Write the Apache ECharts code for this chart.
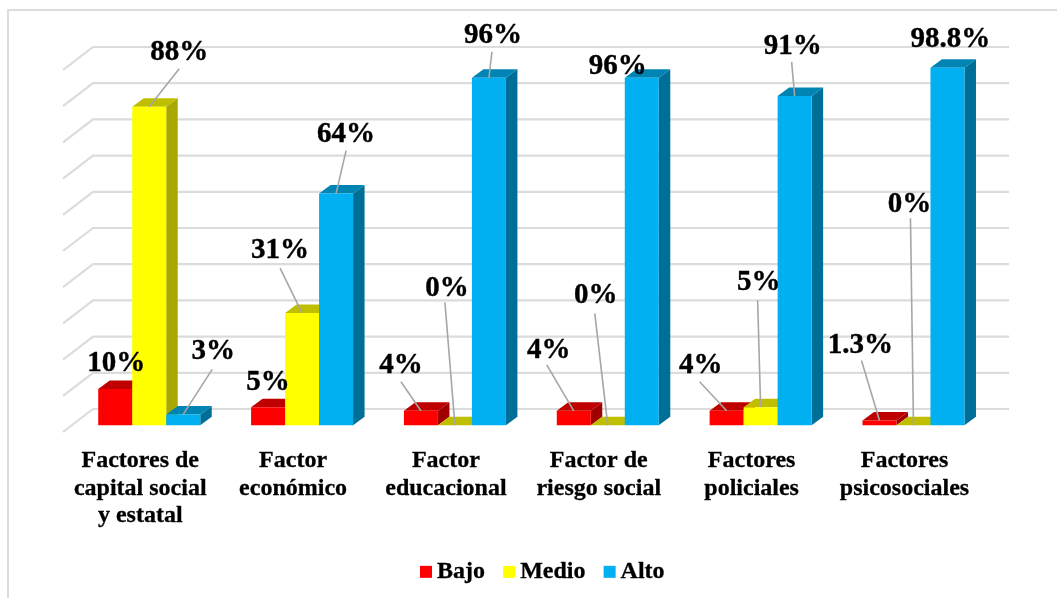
<!DOCTYPE html>
<html>
<head>
<meta charset="utf-8">
<style>html,body{margin:0;padding:0;background:#fff}#c{width:1057px;height:598px}</style>
<script src="https://cdn.jsdelivr.net/npm/echarts@6/dist/echarts.min.js"></script>
</head>
<body>
<div id="c"></div>
<script>
const categories = ['Factores de\ncapital social\ny estatal', 'Factor\neconómico', 'Factor\neducacional', 'Factor de\nriesgo social', 'Factores\npoliciales', 'Factores\npsicosociales'];
const bajo = [10, 5, 4, 4, 4, 1.3];
const medio = [88, 31, 0, 0, 5, 0];
const alto = [3, 64, 96, 96, 91, 98.8];
const seriesNames = ['Bajo', 'Medio', 'Alto'];
const gridTicks = [0, 10, 20, 30, 40, 50, 60, 70, 80, 90, 100];

// Styling and layout, separate from the data
const faceColors = [
  {front: '#FF0000', top: '#BF0000', side: '#A00000'},
  {front: '#FFFF00', top: '#BFBF00', side: '#A8A800'},
  {front: '#00B0F0', top: '#0084B4', side: '#006F97'}
];
const labelOffsets = [
  [[0,-28],[-1,-27],[-21,-48],[-26,-63],[-27,-48],[-20,-78]],
  [[29,-57],[-23,-65],[-9,-139],[-13,-132],[-3,-127],[-5,-223]],
  [[29,-65],[9,-62],[3,-45],[-25,-14],[-3,-52],[2,-31]]
];
const leaderStarts = [
  [null,null,[-20,-29],[-27,-46],[-27,-29],[-18,-60]],
  [[30,-38],[-22,-45],[-10,-123],[-13,-112],[-3,-107],[-3,-207]],
  [[29,-45],[10,-43],[3,-26],null,[-3,-34],null]
];
const BAR_W = 34, DX = 11.5, DY = 8.5, LABEL_SHIFT_X = 1, LABEL_SHIFT_Y = 2.5;
const FONT = '"Liberation Serif","Times New Roman",serif';
const seriesValues = [bajo, medio, alto];

function barRender(si) {
  return function (params, api) {
    const c = api.value(0), v = api.value(1);
    const base = api.coord([c, 0]), topPt = api.coord([c, v]);
    const xl = base[0] + (si - 1.5) * BAR_W, xr = xl + BAR_W;
    const yb = base[1], yt = topPt[1];
    const col = faceColors[si];
    return {type: 'group', children: [
      {type: 'polygon', shape: {points: [[xr, yb], [xr + DX, yb - DY], [xr + DX, yt - DY], [xr, yt]]}, style: {fill: col.side}},
      {type: 'polygon', shape: {points: [[xl, yt], [xl + DX, yt - DY], [xr + DX, yt - DY], [xr, yt]]}, style: {fill: col.top}},
      {type: 'rect', shape: {x: xl, y: yt, width: BAR_W, height: yb - yt}, style: {fill: col.front}}
    ]};
  };
}

const barSeries = seriesNames.map((name, si) => ({
  name, type: 'custom', z: 3, clip: false,
  itemStyle: {color: faceColors[si].front},
  renderItem: barRender(si),
  encode: {x: 0, y: 1},
  data: seriesValues[si].map((v, c) => [c, v])
}));

const wallSeries = {
  name: 'wall', type: 'custom', z: 1, silent: true, clip: false,
  renderItem(params, api) {
    const cs = params.coordSys;
    const y = api.coord([0, api.value(0)])[1];
    const x0 = cs.x - 9.8, x1 = cs.x + 20.2, x2 = cs.x + cs.width + 19.2;
    return {type: 'polyline', shape: {points: [[x0, y + 6.7], [x1, y - 16.3], [x2, y - 16.3]]},
      style: {stroke: '#DCDCDC', lineWidth: 2.2, fill: null}};
  },
  encode: {y: 0},
  data: gridTicks.map(t => [t])
};

const labelData = [];
seriesValues.forEach((vals, si) => vals.forEach((v, c) => labelData.push([c, v, si])));
const labelSeries = {
  name: 'labels', type: 'custom', z: 5, silent: true, clip: false,
  renderItem(params, api) {
    const c = api.value(0), v = api.value(1), si = api.value(2);
    const p = api.coord([c, v]);
    const ax = p[0] + (si - 1) * BAR_W, ay = p[1];
    const off = labelOffsets[si][c], st = leaderStarts[si][c];
    const children = [];
    if (st) children.push({type: 'line', shape: {x1: ax + st[0], y1: ay + st[1], x2: ax, y2: ay},
      style: {stroke: '#A6A6A6', lineWidth: 1.6}});
    children.push({type: 'text', style: {text: v + '%', x: ax + off[0] + LABEL_SHIFT_X, y: ay + off[1] + LABEL_SHIFT_Y,
      fill: '#000', stroke: '#000', lineWidth: 0.4, align: 'center', verticalAlign: 'middle',
      font: 'bold 29px ' + FONT}});
    return {type: 'group', children};
  },
  encode: {x: 0, y: 1},
  data: labelData
};

const chart = echarts.init(document.getElementById('c'), null, {renderer: 'canvas'});
chart.setOption({
  animation: false,
  backgroundColor: '#fff',
  graphic: [{type: 'rect', silent: true, z: 0, shape: {x: 8, y: 10, width: 2000, height: 2000},
    style: {fill: 'none', stroke: '#DCDCDC', lineWidth: 2}}],
  grid: {left: 72.8, right: 1057 - 989.9, top: 63.3, height: 362},
  xAxis: {type: 'category', data: categories, axisLine: {show: false}, axisTick: {show: false},
    axisLabel: {interval: 0, margin: 22, color: '#000', fontFamily: FONT, fontWeight: 'bold', fontSize: 24,
      lineHeight: 27.5, padding: [0, 18, 0, 0], align: 'center', verticalAlign: 'top',
      textBorderColor: '#000', textBorderWidth: 0.3}},
  yAxis: {type: 'value', min: 0, max: 100, interval: 10, show: false, splitLine: {show: false}},
  legend: {data: seriesNames, bottom: 9, left: 415, icon: 'rect', itemWidth: 12, itemHeight: 12, itemGap: 18,
    textStyle: {color: '#000', fontFamily: FONT, fontWeight: 'bold', fontSize: 24,
      textBorderColor: '#000', textBorderWidth: 0.3}},
  tooltip: {show: false},
  series: [wallSeries, ...barSeries, labelSeries]
});
</script>
</body>
</html>
